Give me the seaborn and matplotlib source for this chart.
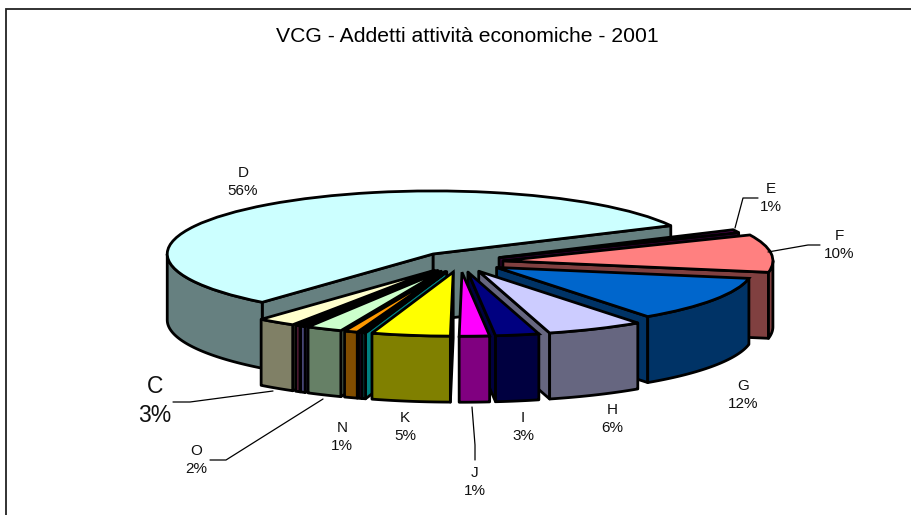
import numpy as np
import seaborn as sns
import matplotlib.pyplot as plt
from matplotlib.lines import Line2D
from matplotlib.patches import Polygon, Rectangle

sns.set_theme(style='white')
plt.rcParams['font.family'] = ['Liberation Sans', 'DejaVu Sans']

# slices, clockwise starting from D
slices = ['D', 'E', 'F', 'G', 'H', 'I', 'J', 'K', 'L', 'M', 'N', 'O', 'A', 'B', 'C']
shares = [56.5, 0.8, 9.5, 12.1, 5.8, 2.6, 1.8, 4.7, 0.2, 0.2, 0.8, 2.15, 0.3, 0.3, 2.3]
top_colors = ['#CCFFFF', '#660066', '#FF8080', '#0066CC', '#CCCCFF', '#000080', '#FF00FF', '#FFFF00',
              '#00FFFF', '#800080', '#FF9900', '#CCFFCC', '#9999FF', '#993366', '#FFFFCC']

# text next to the pie
label_names = ['D', 'E', 'F', 'G', 'H', 'I', 'J', 'K', 'N', 'O', 'C']
label_pcts = ['56%', '1%', '10%', '12%', '6%', '3%', '1%', '5%', '1%', '2%', '3%']

W, H = 911, 515
# pie geometry in pixels
cx, cy = 460, 262
rx, ry = 270, 64
depth = 66 / ry
start = 230.0
explode = 0.16
lw = 2.0
# the picture has a little perspective, so a few slices come out shorter
shrink = {'D': 0.985, 'E': 0.97, 'G': 0.95}

label_pos = {'D': (243, 182), 'E': (771, 198), 'F': (839, 245), 'G': (743, 395), 'H': (612, 419),
             'I': (523, 427), 'J': (475, 482), 'K': (405, 427), 'N': (342, 437), 'O': (196, 460),
             'C': (155, 401)}
leaders = [[(173, 402), (190, 402), (273, 391)],
           [(210, 460), (226, 460), (323, 399)],
           [(472, 407), (475, 445), (475, 460)],
           [(735, 228), (743, 198), (758, 198)],
           [(768, 252), (808, 245), (820, 245)]]


def darker(c):
    return tuple(0.5 * v for v in plt.matplotlib.colors.to_rgb(c))


fig = plt.figure(figsize=(W / 100, H / 100), dpi=100)
ax = fig.add_axes([0, 0, 1, 1])

wedges, _ = ax.pie(shares, colors=top_colors, startangle=start, counterclock=False,
                   explode=[explode] * len(shares), radius=1,
                   wedgeprops=dict(edgecolor='black', linewidth=lw, joinstyle='miter'))
ax.set_aspect('auto')
ax.set_xlim(-cx / rx, (W - cx) / rx)
ax.set_ylim(-(H - cy) / ry, cy / ry)

for name, w in zip(slices, wedges):
    w.set_radius(shrink.get(name, 1))


def pt(w, th):
    a = np.radians(th)
    return w.center[0] + w.r * np.cos(a), w.center[1] + w.r * np.sin(a)


def wall(points, color, z):
    ax.add_patch(Polygon(points, closed=True, facecolor=color, edgecolor='black',
                         linewidth=lw, joinstyle='round', zorder=z))


mids = [(w.theta1 + w.theta2) / 2 for w in wedges]
order = np.argsort([-np.sin(np.radians(m)) for m in mids])
for rank, i in enumerate(order):
    w = wedges[i]
    side = darker(top_colors[i])
    z = 2 + rank * 2
    x0, y0 = w.center
    # cut faces turned towards the viewer
    if np.cos(np.radians(w.theta2)) < 0:
        x1, y1 = pt(w, w.theta2)
        wall([(x0, y0), (x1, y1), (x1, y1 - depth), (x0, y0 - depth)], side, z)
    if np.cos(np.radians(w.theta1)) > 0:
        x1, y1 = pt(w, w.theta1)
        wall([(x0, y0), (x1, y1), (x1, y1 - depth), (x0, y0 - depth)], side, z)
    # outer rim, front half only
    for lo, hi in [(-180, 0), (180, 360)]:
        a, b = max(w.theta1, lo), min(w.theta2, hi)
        if b > a:
            ths = np.linspace(a, b, 60)
            rim = [pt(w, t) for t in ths]
            low = [(x, y - depth) for x, y in rim[::-1]]
            wall(rim + low, side, z)
    w.set_zorder(z + 1)


def fx(x):
    return x / W


def fy(y):
    return 1 - y / H


# chart frame
fig.add_artist(Rectangle((fx(6), fy(530)), 1, fy(9) - fy(530), transform=fig.transFigure,
                         fill=False, edgecolor='#222222', linewidth=1.3))

fig.text(fx(467), fy(36), 'VCG - Addetti attività economiche - 2001', ha='center', va='center',
         fontsize=15.2, color='black')

for name, pct in zip(label_names, label_pcts):
    x, y = label_pos[name]
    size = 16.5 if name == 'C' else 11
    fig.text(fx(x), fy(y), name + '\n' + pct, ha='center', va='center', fontsize=size,
             linespacing=1.3, color='#111111')

for line in leaders:
    xs, ys = zip(*line)
    fig.add_artist(Line2D([fx(x) for x in xs], [fy(y) for y in ys], color='black', linewidth=0.9,
                          transform=fig.transFigure))

fig.savefig('out.png', dpi=100, facecolor='white')
